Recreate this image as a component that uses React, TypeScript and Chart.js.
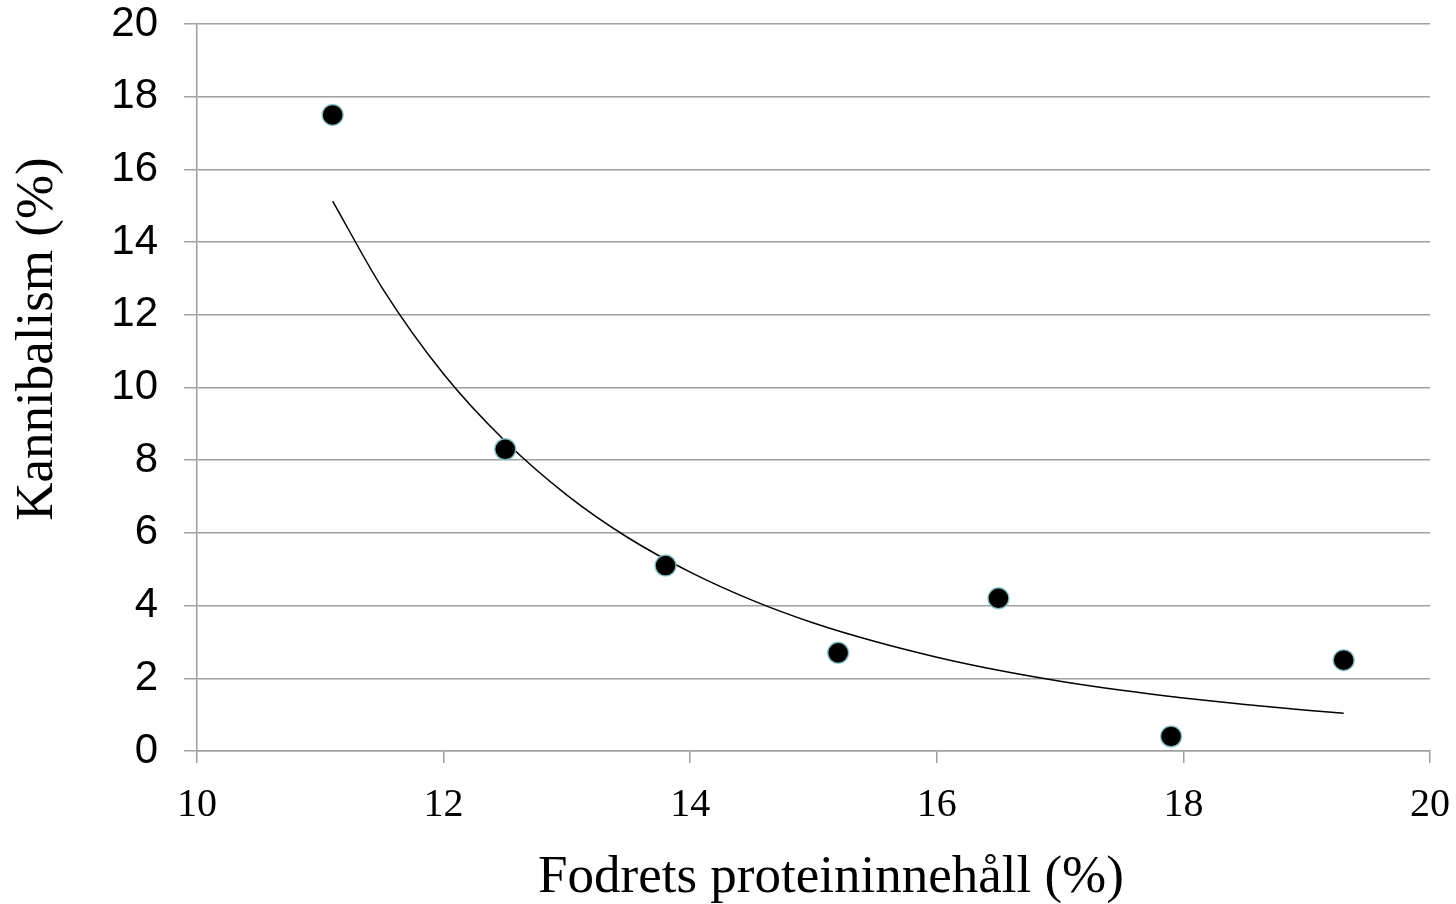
import React, { useEffect, useRef } from "react";
import { Chart, registerables } from "chart.js";

Chart.register(...registerables);

// Observed data points: protein content (%) vs cannibalism (%)
const proteinPct = [11.1, 12.5, 13.8, 15.2, 16.5, 17.9, 19.3];
const cannibalismPct = [17.5, 8.3, 5.1, 2.7, 4.2, 0.4, 2.5];

// Trend curve, values
const trendX = [11.1, 11.5, 12, 12.5, 13, 13.5, 14, 14.5, 15, 15.5, 16, 16.5, 17, 17.5, 18, 18.5, 19, 19.3];
const trendY = [15.13, 12.75, 10.37, 8.52, 7.04, 5.86, 4.92, 4.15, 3.52, 3.01, 2.58, 2.22, 1.92, 1.67, 1.46, 1.28, 1.12, 1.04];

const xTitle = "Fodrets proteininnehåll (%)";
const yTitle = "Kannibalism (%)";

const GRID = "#a0a0a0";

const titlesPlugin = {
  id: "axisTitles",
  afterDraw(chart: any) {
    const ctx = chart.ctx;
    ctx.save();
    ctx.fillStyle = "#000";
    ctx.font = "53px 'Liberation Serif', 'Times New Roman', serif";
    ctx.textAlign = "center";
    ctx.textBaseline = "alphabetic";
    ctx.fillText(xTitle, 831, 892);
    ctx.translate(52, 339);
    ctx.rotate(-Math.PI / 2);
    ctx.fillText(yTitle, 0, 0);
    ctx.restore();
  },
};

export default function App() {
  const ref = useRef<HTMLCanvasElement | null>(null);

  useEffect(() => {
    if (!ref.current) return;
    const chart = new Chart(ref.current, {
      type: "scatter",
      data: {
        datasets: [
          {
            label: "Kannibalism",
            data: proteinPct.map((x, i) => ({ x, y: cannibalismPct[i] })),
            backgroundColor: "#000000",
            borderColor: "rgba(140,200,205,0.85)",
            borderWidth: 1.5,
            pointRadius: 10.5,
            pointHoverRadius: 10.5,
            showLine: false,
          },
          {
            label: "Trend",
            data: trendX.map((x, i) => ({ x, y: trendY[i] })),
            showLine: true,
            borderColor: "#000000",
            borderWidth: 1.5,
            pointRadius: 0,
            pointHoverRadius: 0,
            tension: 0.4,
            cubicInterpolationMode: "monotone",
            fill: false,
          },
        ],
      },
      options: {
        responsive: false,
        animation: false,
        layout: { padding: { left: 0, top: 24, right: 26, bottom: 0 } },
        plugins: {
          legend: { display: false },
          tooltip: { enabled: false },
          title: { display: false },
        },
        scales: {
          x: {
            type: "linear",
            min: 10,
            max: 20,
            afterFit: (scale: any) => {
              scale.height = 153;
              scale.paddingLeft = 0;
              scale.paddingRight = 0;
            },
            ticks: {
              stepSize: 2,
              color: "#000",
              padding: 18,
              font: { family: "'Liberation Serif', 'Times New Roman', serif", size: 40 },
              maxRotation: 0,
            },
            grid: {
              drawOnChartArea: false,
              drawTicks: true,
              tickLength: 12,
              color: GRID,
              lineWidth: 1.5,
            },
            border: { display: true, color: GRID, width: 1.5 },
          },
          y: {
            type: "linear",
            min: 0,
            max: 20,
            afterFit: (scale: any) => {
              scale.width = 197;
              scale.paddingTop = 0;
              scale.paddingBottom = 0;
            },
            ticks: {
              stepSize: 2,
              color: "#000",
              padding: 26,
              font: { family: "'Liberation Sans', Arial, sans-serif", size: 42, lineHeight: 1.15 },
            },
            grid: {
              color: GRID,
              lineWidth: 1.5,
              drawTicks: true,
              tickLength: 13,
            },
            border: { display: true, color: GRID, width: 1.5 },
          },
        },
      },
      plugins: [titlesPlugin],
    });
    return () => chart.destroy();
  }, []);

  return (
    <div style={{ position: "absolute", left: 0, top: 0, width: 1456, height: 904, background: "#fff" }}>
      <canvas ref={ref} width={1456} height={904} style={{ display: "block" }} />
    </div>
  );
}
